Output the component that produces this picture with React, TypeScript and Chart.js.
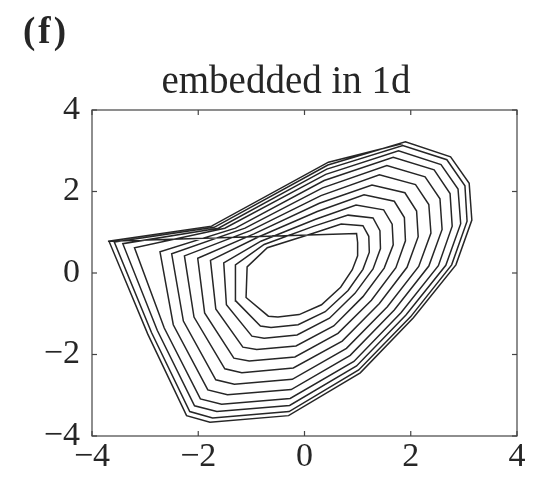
import { useEffect, useRef } from 'react';
import { Chart, registerables } from 'chart.js';

Chart.register(...registerables);

const TICK_VALUES = [-4, -2, 0, 2, 4];
const TICK_LABELS = ['\u22124', '\u22122', '0', '2', '4'];
const PANEL_LABEL = '(f)';
const TITLE = 'embedded in 1d';

const loop0 = [[-3.70, 0.78], [0.98, 0.97], [1.00, 0.75], [1.00, 0.42], [0.90, 0.08], [0.68, -0.35], [0.32, -0.78], [-0.10, -1.02], [-0.50, -1.08], [-0.68, -1.06], [-1.10, -0.60], [-1.08, 0.15], [-0.70, 0.62], [0.15, 0.97]];
const loop1 = [[0.69, 1.20], [1.10, 1.16], [1.21, 0.90], [1.22, 0.51], [1.10, 0.09], [0.82, -0.43], [0.39, -0.95], [-0.12, -1.27], [-0.63, -1.34], [-0.83, -1.30], [-1.29, -0.69], [-1.30, 0.20], [-0.76, 0.70], [0.18, 1.15]];
const loop2 = [[0.82, 1.42], [1.29, 1.35], [1.42, 1.04], [1.43, 0.60], [1.29, 0.10], [0.95, -0.50], [0.47, -1.11], [-0.14, -1.52], [-0.76, -1.60], [-0.99, -1.55], [-1.47, -0.78], [-1.52, 0.25], [-0.82, 0.78], [0.21, 1.32]];
const loop3 = [[0.97, 1.67], [1.49, 1.55], [1.65, 1.20], [1.67, 0.69], [1.50, 0.12], [1.10, -0.58], [0.55, -1.30], [-0.16, -1.79], [-0.90, -1.88], [-1.16, -1.82], [-1.67, -0.88], [-1.77, 0.31], [-0.89, 0.87], [0.24, 1.51]];
const loop4 = [[1.12, 1.92], [1.69, 1.76], [1.88, 1.36], [1.90, 0.79], [1.72, 0.13], [1.26, -0.67], [0.63, -1.48], [-0.18, -2.06], [-1.04, -2.16], [-1.33, -2.09], [-1.88, -0.98], [-2.01, 0.36], [-0.95, 0.96], [0.28, 1.71]];
const loop5 = [[1.27, 2.16], [1.89, 1.97], [2.11, 1.52], [2.14, 0.89], [1.93, 0.14], [1.41, -0.75], [0.71, -1.67], [-0.21, -2.33], [-1.18, -2.45], [-1.50, -2.35], [-2.08, -1.08], [-2.26, 0.42], [-1.02, 1.04], [0.31, 1.90]];
const loop6 = [[1.41, 2.41], [2.09, 2.17], [2.34, 1.68], [2.38, 0.98], [2.15, 0.16], [1.56, -0.83], [0.79, -1.85], [-0.23, -2.61], [-1.32, -2.73], [-1.67, -2.62], [-2.28, -1.18], [-2.50, 0.47], [-1.12, 1.10], [0.34, 2.09]];
const loop7 = [[1.55, 2.64], [2.27, 2.36], [2.55, 1.82], [2.59, 1.07], [2.34, 0.17], [1.69, -0.91], [0.86, -2.02], [-0.25, -2.86], [-1.45, -2.99], [-1.82, -2.87], [-2.47, -1.27], [-2.72, 0.52], [-1.30, 1.10], [0.37, 2.27]];
const loop8 = [[1.67, 2.84], [2.44, 2.53], [2.74, 1.95], [2.78, 1.15], [2.52, 0.18], [1.82, -0.97], [0.93, -2.17], [-0.27, -3.08], [-1.56, -3.22], [-1.96, -3.09], [-2.64, -1.35], [-3.20, 0.62], [-1.50, 1.10], [0.40, 2.42]];
const loop9 = [[1.77, 3.00], [2.57, 2.66], [2.89, 2.06], [2.94, 1.21], [2.66, 0.19], [1.91, -1.03], [0.98, -2.28], [-0.28, -3.25], [-1.65, -3.40], [-2.07, -3.26], [-2.77, -1.41], [-3.42, 0.72], [-1.62, 1.10], [0.42, 2.55]];
const loop10 = [[1.85, 3.13], [2.68, 2.78], [3.02, 2.14], [3.06, 1.27], [2.77, 0.20], [2.00, -1.07], [1.02, -2.38], [-0.29, -3.40], [-1.73, -3.56], [-2.16, -3.40], [-2.88, -1.46], [-3.58, 0.76], [-1.70, 1.12], [0.44, 2.65]];
const loop11 = [[1.90, 3.22], [2.75, 2.85], [3.10, 2.20], [3.15, 1.30], [2.85, 0.20], [2.05, -1.10], [1.05, -2.45], [-0.30, -3.50], [-1.78, -3.66], [-2.22, -3.50], [-2.95, -1.50], [-3.68, 0.78], [-1.75, 1.15], [0.45, 2.72], [1.85, 3.18]];

const FONT = '"Liberation Serif", "Times New Roman", serif';
const INK = '#262626';

export default function App() {
  const ref = useRef<HTMLCanvasElement>(null);

  useEffect(() => {
    document.body.style.margin = '0';
    const canvas = ref.current;
    if (!canvas) return;
    const loops = [loop0, loop1, loop2, loop3, loop4, loop5, loop6, loop7, loop8, loop9, loop10, loop11];
    const points = loops.flat().map(([x, y]) => ({ x, y }));

    const framePlugin = {
      id: 'frame',
      afterDatasetsDraw(chart: any) {
        const { ctx, chartArea: a, scales } = chart;
        ctx.save();
        ctx.strokeStyle = '#444444';
        ctx.lineWidth = 1.2;
        ctx.strokeRect(a.left, a.top, a.right - a.left, a.bottom - a.top);
        const len = 5;
        const seg = (x1: number, y1: number, x2: number, y2: number) => {
          ctx.beginPath();
          ctx.moveTo(x1, y1);
          ctx.lineTo(x2, y2);
          ctx.stroke();
        };
        TICK_VALUES.forEach((v) => {
          const px = scales.x.getPixelForValue(v);
          seg(px, a.bottom, px, a.bottom - len);
          seg(px, a.top, px, a.top + len);
          const py = scales.y.getPixelForValue(v);
          seg(a.left, py, a.left + len, py);
          seg(a.right, py, a.right - len, py);
        });
        ctx.fillStyle = INK;
        ctx.textBaseline = 'alphabetic';
        ctx.font = `39px ${FONT}`;
        ctx.textAlign = 'center';
        ctx.fillText(TITLE, 286, 93);
        ctx.font = `bold 37px ${FONT}`;
        ctx.textAlign = 'left';
        try {
          (ctx as any).letterSpacing = '3px';
        } catch (e) {
          /* ignore */
        }
        ctx.fillText(PANEL_LABEL, 23, 43);
        ctx.restore();
      },
    };

    const tickCallback = (value: any) => {
      const i = TICK_VALUES.indexOf(Number(value));
      return i >= 0 ? TICK_LABELS[i] : '';
    };

    const chart = new Chart(canvas, {
      type: 'scatter',
      data: {
        datasets: [
          {
            data: points,
            showLine: true,
            borderColor: INK,
            borderWidth: 1.5,
            pointRadius: 0,
            fill: false,
            tension: 0,
          },
        ],
      },
      options: {
        animation: false,
        responsive: false,
        devicePixelRatio: 1,
        layout: { padding: { top: 110, right: 20, left: 0, bottom: 0 } },
        plugins: { legend: { display: false }, tooltip: { enabled: false }, title: { display: false } },
        scales: {
          x: {
            type: 'linear',
            min: -4,
            max: 4,
            afterBuildTicks: (s: any) => {
              s.ticks = TICK_VALUES.map((v) => ({ value: v }));
            },
            afterFit: (s: any) => {
              s.height = 41;
            },
            grid: { display: false, drawTicks: false },
            border: { display: false },
            ticks: {
              callback: tickCallback,
              font: { family: FONT, size: 34 },
              color: INK,
              padding: 1,
              maxRotation: 0,
              autoSkip: false,
            },
          },
          y: {
            type: 'linear',
            min: -4,
            max: 4,
            afterBuildTicks: (s: any) => {
              s.ticks = TICK_VALUES.map((v) => ({ value: v }));
            },
            afterFit: (s: any) => {
              s.width = 92;
            },
            grid: { display: false, drawTicks: false },
            border: { display: false },
            ticks: {
              callback: tickCallback,
              font: { family: FONT, size: 34 },
              color: INK,
              padding: 12,
              autoSkip: false,
            },
          },
        },
      },
      plugins: [framePlugin],
    });
    return () => chart.destroy();
  }, []);

  return (
    <div style={{ position: 'absolute', left: 0, top: 0, width: 537, height: 477, background: '#ffffff' }}>
      <canvas ref={ref} width={537} height={477} style={{ display: 'block' }} />
    </div>
  );
}
